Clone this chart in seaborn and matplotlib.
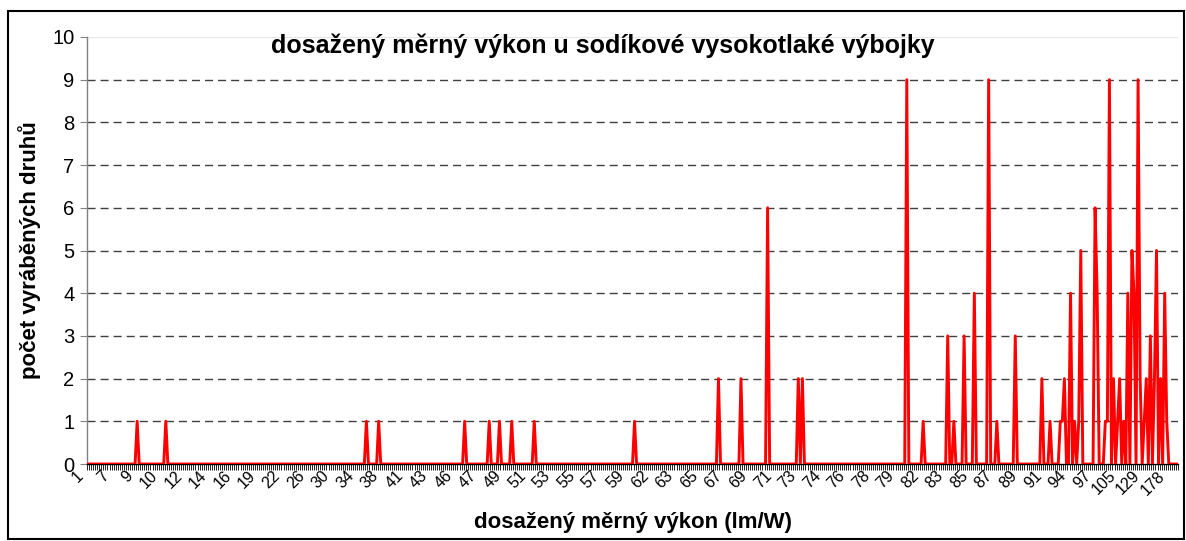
import numpy as np
import pandas as pd
import seaborn as sns
import matplotlib.pyplot as plt
import matplotlib.transforms as mtransforms
from matplotlib.patches import Rectangle
from matplotlib.ticker import FixedLocator

# category axis: one category per lamp type, labels shown every 12th category
n_categories = 533
tick_labels = ['1', '7', '9', '10', '12', '14', '16', '19', '22', '26', '30', '34', '38', '41', '43',
               '46', '47', '49', '51', '53', '55', '57', '59', '62', '63', '65', '67', '69', '71', '73',
               '74', '76', '78', '79', '82', '83', '85', '87', '89', '91', '94', '97', '105', '129', '178']
label_step = 12

# non-zero points (category index, count)
spike_pos = [24, 38, 136, 142, 184, 196, 201, 207, 218, 267, 308, 319, 332, 347, 349,
             400, 408, 420, 423, 428, 433, 440, 444, 453,
             466, 470, 475, 476, 477, 480, 482, 484, 485, 492, 493, 497, 498, 499,
             501, 503, 504, 506, 508, 510, 511, 513, 514, 516, 517, 519, 521,
             522, 524, 526, 527]
spike_val = [1, 1, 1, 1, 1, 1, 1, 1, 1, 1, 2, 2, 6, 2, 2,
             9, 1, 3, 1, 3, 4, 9, 1, 3,
             2, 1, 1, 1, 2, 4, 1, 1, 5, 6, 4, 1, 1, 9,
             2, 1, 2, 1, 4, 5, 4, 9, 2, 1, 2, 3, 2,
             5, 2, 4, 1]

counts = np.zeros(n_categories)
counts[spike_pos] = spike_val
df = pd.DataFrame({'cat': np.arange(n_categories), 'count': counts})

sns.set_style('white')
plt.rcParams['font.family'] = ['Liberation Sans', 'DejaVu Sans']
plt.rcParams['text.color'] = 'black'
plt.rcParams['xtick.color'] = 'black'
plt.rcParams['ytick.color'] = 'black'
plt.rcParams['axes.labelcolor'] = 'black'

fig = plt.figure(figsize=(11.86, 5.41), dpi=100)
ax = fig.add_axes([87 / 1186, 77 / 541, 1091 / 1186, 427 / 541])

for y in range(1, 10):
    ax.axhline(y, color='#404040', lw=1, linestyle=(0, (5.8, 3.6)), zorder=1)
ax.axhline(10, color='#e6e6e6', lw=0.8, zorder=1)

sns.lineplot(data=df, x='cat', y='count', color='#ff0000', lw=2.1, ax=ax, zorder=3)

ax.set_xlim(-0.5, n_categories - 0.5)
ax.set_ylim(0, 10)
ax.set_yticks(range(0, 11))
ax.tick_params(axis='y', length=5, width=0.8, color='#808080', labelcolor='black', labelsize=14.5, pad=4, left=True)

ax.set_xticks(np.arange(len(tick_labels)) * label_step)
ax.set_xticklabels(tick_labels, rotation=45, ha='right', rotation_mode='anchor', fontsize=11.5)
ax.xaxis.set_minor_locator(FixedLocator(np.arange(-0.5, n_categories, 1)))
ax.tick_params(axis='x', which='major', length=0, pad=3, labelcolor='black')
ax.tick_params(axis='x', which='minor', length=4, width=0.6, color='black', bottom=True)
shift = mtransforms.ScaledTranslation(-12 / 100, 0, fig.dpi_scale_trans)
for lbl in ax.get_xticklabels():
    lbl.set_transform(lbl.get_transform() + shift)

for side in ['top', 'right']:
    ax.spines[side].set_visible(False)
ax.spines['left'].set_color('#808080')
ax.spines['left'].set_linewidth(1)
ax.spines['bottom'].set_color('black')
ax.spines['bottom'].set_linewidth(1)

ax.set_xlabel('dosažený měrný výkon (lm/W)', fontsize=16, fontweight='bold', labelpad=10)
ax.set_ylabel('počet vyráběných druhů', fontsize=16, fontweight='bold', labelpad=8)
fig.text(603 / 1186, 1 - 46 / 541, 'dosažený měrný výkon u sodíkové vysokotlaké výbojky',
         ha='center', va='center', fontsize=18, fontweight='bold')

fig.patches.append(Rectangle((8 / 1186, 2 / 541), 1176 / 1186, 528 / 541, transform=fig.transFigure,
                             fill=False, edgecolor='black', lw=1.5))

fig.savefig('out.png', dpi=100)
